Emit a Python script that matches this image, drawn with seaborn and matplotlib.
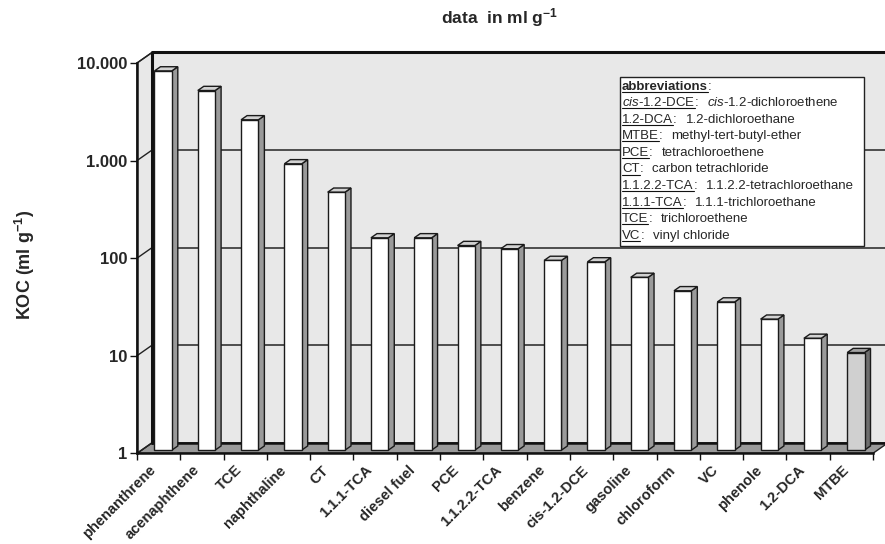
import numpy as np
import pandas as pd
import matplotlib
matplotlib.use("Agg")
import matplotlib.pyplot as plt
import seaborn as sns
from matplotlib.patches import Polygon, Rectangle
from matplotlib.lines import Line2D
from matplotlib.ticker import NullLocator
from matplotlib.transforms import IdentityTransform, ScaledTranslation

# ----- DATA (KOC in ml/g) -----
compounds = ['phenanthrene', 'acenaphthene', 'TCE', 'naphthaline', 'CT',
             '1.1.1-TCA', 'diesel fuel', 'PCE', '1.1.2.2-TCA', 'benzene',
             'cis-1.2-DCE', 'gasoline', 'chloroform', 'VC', 'phenole',
             '1.2-DCA', 'MTBE']
koc = [7700, 4850, 2430, 860, 440, 150, 150, 125, 116, 88,
       85, 59, 43, 33, 22, 14, 10]
front_colors = ['#ffffff'] * 16 + ['#d0d0d0']
side_colors = ['#9a9a9a'] * 16 + ['#6e6e6e']
top_colors = ['#d2d2d2'] * 16 + ['#a4a4a4']

yticks = [1, 10, 100, 1000, 10000]
ytick_labels = ['1', '10', '100', '1.000', '10.000']

abbr_short = ['$\\mathit{cis}$-1.2-DCE', '1.2-DCA', 'MTBE', 'PCE', 'CT',
              '1.1.2.2-TCA', '1.1.1-TCA', 'TCE', 'VC']
abbr_long = ['$\\mathit{cis}$-1.2-dichloroethene', '1.2-dichloroethane',
             'methyl-tert-butyl-ether', 'tetrachloroethene',
             'carbon tetrachloride', '1.1.2.2-tetrachloroethane',
             '1.1.1-trichloroethane', 'trichloroethene', 'vinyl chloride']

# ----- STYLE -----
sns.set_style('white')
plt.rcParams['font.family'] = ['Liberation Sans', 'DejaVu Sans']
plt.rcParams['mathtext.fontset'] = 'custom'
plt.rcParams['mathtext.rm'] = 'Liberation Sans'
plt.rcParams['mathtext.it'] = 'Liberation Sans:italic'
plt.rcParams['mathtext.bf'] = 'Liberation Sans:bold'

W, H = 885, 544
fig = plt.figure(figsize=(W / 100, H / 100), dpi=100)
ax = fig.add_axes([137 / W, 90.7 / H, 736 / W, 390.3 / H])
ax.set_facecolor('none')

df = pd.DataFrame({'compound': compounds, 'koc': koc})
sns.barplot(data=df, x='compound', y='koc', hue='compound',
            palette=front_colors, legend=False, errorbar=None,
            width=0.4, edgecolor='#1a1a1a', linewidth=1.0, ax=ax)
bars = sorted([p for p in ax.patches if isinstance(p, Rectangle)],
              key=lambda p: p.get_x())
ax.set_yscale('log')
ax.set_ylim(1, 10000)
ax.set_xlim(-0.5, len(compounds) - 0.5)
ax.set_xlabel('')
ax.set_ylabel('')

# depth of the pseudo-3D box in pixels, bars sit between f0 and f1
DX, DY = 15, 10.5
f0, f1 = 0.3, 0.7
idt = IdentityTransform()


def sh(pt, f):
    return (pt[0] + DX * f, pt[1] + DY * f)


tr = ax.transData.transform
p1, p2 = tr((-0.5, 1)), tr((len(compounds) - 0.5, 1))
p3, p4 = tr((-0.5, 10000)), tr((len(compounds) - 0.5, 10000))

# back wall, floor, side wall
ax.add_patch(Polygon([sh(p1, 1), sh(p2, 1), sh(p4, 1), sh(p3, 1)],
                     transform=idt, facecolor='#e8e8e8', edgecolor='none',
                     zorder=0.1, clip_on=False))
for v in yticks[1:-1]:
    a = tr((-0.5, v))
    b = tr((len(compounds) - 0.5, v))
    ax.add_line(Line2D([sh(a, 1)[0], sh(b, 1)[0]], [sh(a, 1)[1], sh(b, 1)[1]],
                       transform=idt, color='#333333', lw=1.2, zorder=0.2,
                       clip_on=False))
ax.add_patch(Polygon([p1, p2, sh(p2, 1), sh(p1, 1)], transform=idt,
                     facecolor='#9a9a9a', edgecolor='#222222', lw=1.0,
                     zorder=0.3, clip_on=False))
ax.add_patch(Polygon([p1, p3, sh(p3, 1), sh(p1, 1)], transform=idt,
                     facecolor='#e8e8e8', edgecolor='#222222', lw=1.0,
                     zorder=0.4, clip_on=False))
for v in yticks:
    a = tr((-0.5, v))
    ax.add_line(Line2D([a[0], sh(a, 1)[0]], [a[1], sh(a, 1)[1]],
                       transform=idt, color='#222222', lw=1.0, zorder=0.5,
                       clip_on=False))
ax.add_line(Line2D([sh(p1, 1)[0], sh(p3, 1)[0], sh(p4, 1)[0]],
                   [sh(p1, 1)[1], sh(p3, 1)[1], sh(p4, 1)[1]],
                   transform=idt, color='#111111', lw=2.2, zorder=0.6,
                   clip_on=False))
ax.add_line(Line2D([sh(p1, 1)[0], sh(p2, 1)[0]], [sh(p1, 1)[1], sh(p2, 1)[1]],
                   transform=idt, color='#111111', lw=1.8, zorder=0.6,
                   clip_on=False))

# bars: front face from seaborn, shifted into the box; side and top faces
shift = ScaledTranslation(DX * f0 / 100, DY * f0 / 100, fig.dpi_scale_trans)
for i, p in enumerate(bars):
    top = p.get_height()
    p.set_y(1)
    p.set_height(top - 1)
    x0, x1 = p.get_x(), p.get_x() + p.get_width()
    br, trr, tl = tr((x1, 1)), tr((x1, top)), tr((x0, top))
    ax.add_patch(Polygon([sh(br, f0), sh(trr, f0), sh(trr, f1), sh(br, f1)],
                         transform=idt, facecolor=side_colors[i],
                         edgecolor='#1a1a1a', lw=1.0, zorder=2,
                         clip_on=False))
    ax.add_patch(Polygon([sh(tl, f0), sh(trr, f0), sh(trr, f1), sh(tl, f1)],
                         transform=idt, facecolor=top_colors[i],
                         edgecolor='#1a1a1a', lw=1.0, zorder=2,
                         clip_on=False))
    p.set_transform(ax.transData + shift)
    p.set_clip_on(False)
    p.set_zorder(3)

# axes, ticks
for s in ['top', 'right']:
    ax.spines[s].set_visible(False)
for s in ['left', 'bottom']:
    ax.spines[s].set_color('#111111')
    ax.spines[s].set_linewidth(1.8)
    ax.spines[s].set_zorder(4)

ax.set_yticks(yticks, labels=ytick_labels)
ax.yaxis.set_minor_locator(NullLocator())
ax.tick_params(axis='y', which='major', direction='out', length=5, width=1,
               color='#111111', pad=2, left=True, labelsize=12)
for t in ax.get_yticklabels():
    t.set_fontweight('bold')

ax.set_xticks(np.arange(-0.5, len(compounds)), labels=[])
ax.set_xticks(np.arange(len(compounds)), minor=True)
ax.set_xticklabels(compounds, minor=True, rotation=45, ha='right',
                   rotation_mode='anchor', fontsize=10.5, fontweight='bold')
ax.tick_params(axis='x', which='minor', length=0, pad=7)
ax.tick_params(axis='x', which='major', direction='out', length=5, width=1,
               color='#111111', bottom=True)
label_shift = ScaledTranslation(-0.10, 0, fig.dpi_scale_trans)
for t in ax.get_xticklabels(minor=True):
    t.set_transform(t.get_transform() + label_shift)

fig.text(25 / W, 1 - 265 / H, r'KOC (ml g$^{\mathbf{-1}}$)', rotation=90,
         ha='center', va='center', fontsize=13, fontweight='bold')
fig.text(500 / W, 1 - 18 / H, r'data  in ml g$^{\mathbf{-1}}$',
         ha='center', va='center', fontsize=12.5, fontweight='bold')

# abbreviations box
fig.add_artist(Rectangle((620, H - 246), 244, 169, transform=idt,
                         facecolor='white', edgecolor='#222222', lw=1.0,
                         zorder=4))
renderer = fig.canvas.get_renderer()
x0 = 622
base = H - 89.5
step = 16.6


def underlined(x, y, s, **kw):
    t = fig.text(x, y, s, transform=idt, va='baseline', ha='left',
                 fontsize=9.5, zorder=5, **kw)
    e = t.get_window_extent(renderer)
    fig.add_artist(Line2D([e.x0, e.x1], [y - 2, y - 2], transform=idt,
                          color='#111111', lw=0.8, zorder=5))
    return e.x1


x = underlined(x0, base, 'abbreviations', fontweight='bold')
fig.text(x, base, ':', transform=idt, va='baseline', fontsize=9.5, zorder=5)
for k, (a, b) in enumerate(zip(abbr_short, abbr_long)):
    y = base - step * (k + 1)
    x = underlined(x0, y, a)
    t = fig.text(x, y, ':', transform=idt, va='baseline', fontsize=9.5,
                 zorder=5)
    x = t.get_window_extent(renderer).x1 + 9
    fig.text(x, y, b, transform=idt, va='baseline', fontsize=9.5, zorder=5)

fig.savefig('out.png', dpi=100)
